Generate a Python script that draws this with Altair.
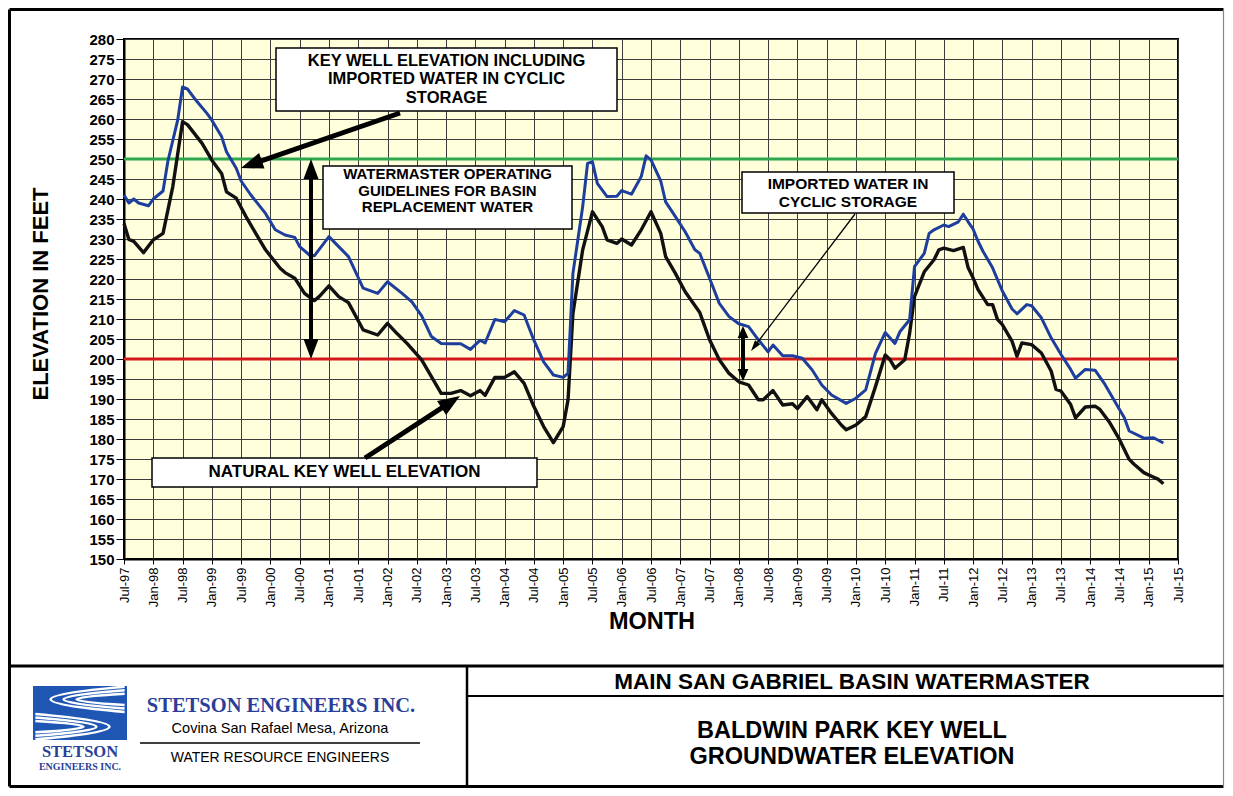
import json
import math
import altair as alt
import pandas as pd

# ---------------- data ----------------
# months counted from Jul-1997 (0 = Jul-97)
blue_months = [0, 1, 2, 3, 5, 6, 8, 9, 11, 12, 13, 15, 17, 18, 20, 21, 23, 24, 26, 29,
               31, 33, 35, 36, 38, 39, 42, 44, 46, 49, 52, 54, 57, 59, 61, 63, 65, 67, 69, 71,
               73, 74, 76, 78, 80, 82, 84, 86, 88, 90, 91, 92, 94, 95, 96, 97, 99, 101, 102, 104,
               106, 107, 108, 110, 111, 113, 115, 117, 118, 120, 122, 124, 126, 128, 130, 132, 133, 135, 137, 139,
               141, 143, 145, 148, 150, 152, 154, 156, 158, 159, 161, 162, 164, 165, 166, 168, 169, 171, 172, 173,
               174, 175, 176, 178, 180, 182, 183, 185, 186, 188, 190, 192, 194, 195, 197, 199, 201, 203, 205, 206,
               209, 211, 213]
blue_values = [241.0, 239.0, 240.0, 239.0, 238.3, 240.0, 242.0, 249.5, 259.7, 268.0,
               267.5, 264.3, 261.4, 259.7, 255.6, 251.8, 247.7, 244.5, 241.0, 236.4,
               232.3, 231.0, 230.4, 228.1, 226.0, 225.8, 230.6, 228.1, 225.6, 217.7,
               216.4, 219.3, 216.4, 214.3, 210.8, 205.6, 203.9, 203.8, 203.8, 202.4,
               204.7, 204.0, 209.9, 209.3, 212.1, 211.0, 204.7, 199.3, 196.0, 195.4,
               196.4, 221.4, 238.1, 248.9, 249.3, 243.9, 240.6, 240.7, 242.1, 241.2,
               245.6, 250.8, 249.8, 244.5, 239.3, 235.6, 231.8, 227.3, 226.4, 220.2,
               213.9, 210.6, 208.8, 208.1, 204.8, 201.8, 203.5, 200.8, 200.8, 200.2,
               197.3, 193.5, 191.0, 188.9, 190.2, 192.3, 201.4, 206.6, 203.9, 206.8,
               209.8, 223.1, 226.4, 231.4, 232.3, 233.5, 233.1, 234.3, 236.2, 234.3,
               232.5, 229.5, 227.0, 222.8, 217.0, 212.5, 211.3, 213.6, 213.3, 210.3,
               205.3, 201.2, 197.4, 195.2, 197.4, 197.2, 193.7, 189.5, 185.3, 182.0,
               180.2, 180.3, 179.0]

black_months = [0, 1, 2, 4, 6, 8, 10, 12, 13, 16, 18, 20, 21, 23, 25, 27, 29, 32, 33, 35,
                37, 39, 40, 42, 44, 46, 49, 52, 54, 56, 58, 61, 63, 65, 67, 69, 71, 73, 74, 76,
                78, 80, 82, 84, 86, 88, 90, 91, 92, 94, 96, 98, 99, 101, 102, 104, 106, 108, 110, 111,
                113, 115, 118, 120, 122, 124, 126, 128, 130, 131, 133, 135, 137, 138, 140, 142, 143, 145, 147, 148,
                150, 152, 154, 156, 157, 158, 160, 161, 162, 164, 166, 167, 168, 170, 172, 173, 174, 175, 177, 178,
                179, 180, 182, 183, 184, 186, 188, 190, 191, 192, 194, 195, 197, 199, 200, 202, 204, 206, 207, 209,
                210, 212, 213]
black_values = [233.9, 229.9, 229.4, 226.6, 229.8, 231.4, 243.1, 259.3, 258.6, 253.9,
                249.7, 246.4, 241.8, 240.2, 235.6, 231.4, 227.3, 222.7, 221.6, 220.2,
                216.4, 214.6, 215.6, 218.3, 215.6, 214.1, 207.3, 206.0, 208.9, 206.3,
                203.9, 199.8, 195.6, 191.4, 191.4, 192.1, 190.8, 192.1, 190.9, 195.4,
                195.4, 196.8, 193.9, 188.1, 183.1, 179.1, 183.1, 189.8, 211.4, 227.3,
                236.8, 233.1, 229.8, 228.9, 230.0, 228.5, 232.3, 236.8, 231.4, 225.6,
                221.4, 216.8, 211.6, 204.8, 199.8, 196.4, 194.3, 193.5, 189.8, 189.8,
                192.1, 188.5, 188.8, 187.6, 190.6, 187.3, 189.8, 186.4, 183.5, 182.3,
                183.5, 185.6, 193.1, 201.0, 199.8, 197.7, 199.8, 206.4, 215.6, 221.8,
                224.8, 227.3, 227.7, 227.1, 227.9, 222.8, 220.3, 217.4, 213.6, 213.6,
                209.9, 208.6, 204.4, 200.7, 204.0, 203.6, 201.5, 197.0, 192.4, 192.0,
                188.6, 185.3, 188.0, 188.2, 187.4, 184.1, 179.9, 174.9, 173.7, 171.6,
                171.0, 169.9, 168.8]

x_tick_labels = ["Jul-97", "Jan-98", "Jul-98", "Jan-99", "Jul-99", "Jan-00", "Jul-00",
                 "Jan-01", "Jul-01", "Jan-02", "Jul-02", "Jan-03", "Jul-03", "Jan-04",
                 "Jul-04", "Jan-05", "Jul-05", "Jan-06", "Jul-06", "Jan-07", "Jul-07",
                 "Jan-08", "Jul-08", "Jan-09", "Jul-09", "Jan-10", "Jul-10", "Jan-11",
                 "Jul-11", "Jan-12", "Jul-12", "Jan-13", "Jul-13", "Jan-14", "Jul-14",
                 "Jan-15", "Jul-15"]
y_ticks = list(range(150, 281, 5))
guide_levels = [250, 200]
guide_colors = ["#2EA84C", "#D21A1A"]


def month_to_date(m):
    return f"{1997 + (m + 6) // 12}-{(m + 6) % 12 + 1:02d}"


def date_to_pos(d):
    y, mo = map(int, d.split("-"))
    return y + (mo - 1) / 12


blue_dates = [month_to_date(m) for m in blue_months]
black_dates = [month_to_date(m) for m in black_months]
df_blue = pd.DataFrame({"date": blue_dates, "t": [date_to_pos(d) for d in blue_dates], "elev": blue_values})
df_black = pd.DataFrame({"date": black_dates, "t": [date_to_pos(d) for d in black_dates], "elev": black_values})
df_guide = pd.DataFrame({"elev": guide_levels, "col": guide_colors})
x_tick_values = [1997.5 + 0.5 * i for i in range(len(x_tick_labels))]

# ---------------- layout ----------------
X0, Y0, W, H = 124, 39, 1054, 520  # plot area position in the page
SANS = "Liberation Sans, Arial, sans-serif"
SERIF = "Liberation Serif, Times New Roman, serif"
GRID = "#3c3c3c"
dummy = pd.DataFrame({"k": [0]})

label_expr = json.dumps(x_tick_labels) + "[round((datum.value - 1997.5) * 2)]"

xenc = alt.X("t:Q", scale=alt.Scale(domain=[1997.5, 2015.5], nice=False, zero=False),
             axis=alt.Axis(values=x_tick_values, labelExpr=label_expr, labelAngle=270,
                           labelFontSize=13, labelFont=SANS, labelColor="black", labelPadding=3,
                           labelOverlap=False, labelFlush=False, tickSize=5, tickColor="black",
                           domainColor="black", domainWidth=2, grid=True, gridColor=GRID,
                           gridWidth=1, title=None))
yscale = alt.Scale(domain=[150, 280], nice=False, zero=False)
yenc = alt.Y("elev:Q", scale=yscale,
             axis=alt.Axis(values=y_ticks, format="d", labelFontSize=15, labelFontWeight="bold",
                           labelFont=SANS, labelColor="black", labelPadding=2, tickSize=8,
                           tickColor="black", domainColor="black", domainWidth=2, grid=True,
                           gridColor=GRID, gridWidth=1, title=None, labelOverlap=False,
                           labelFlush=False))

guides = alt.Chart(df_guide).mark_rule(strokeWidth=3).encode(
    y=yenc, color=alt.Color("col:N", scale=None))
black_line = alt.Chart(df_black).mark_line(color="#111111", strokeWidth=3.4, strokeJoin="round").encode(
    x=xenc, y=yenc, order="t:Q")
blue_line = alt.Chart(df_blue).mark_line(color="#1E3E9E", strokeWidth=3, strokeJoin="round").encode(
    x=xenc, y=yenc, order="t:Q")


def P(x, y):
    return x - X0, y - Y0


def txt(s, x, y, size, weight="bold", font=SANS, color="black", angle=None, align="center"):
    px, py = P(x, y)
    kw = dict(text=s, font=font, fontSize=size, fontWeight=weight, color=color,
              align=align, baseline="middle")
    if angle is not None:
        kw["angle"] = angle
    return alt.Chart(dummy).mark_text(**kw).encode(x=alt.value(px), y=alt.value(py))


def box(x1, y1, x2, y2, fill="white", stroke="black", sw=1.5):
    a, b = P(x1, y1)
    c, d = P(x2, y2)
    kw = dict(fill=fill, strokeWidth=sw)
    if stroke:
        kw["stroke"] = stroke
    return alt.Chart(dummy).mark_rect(**kw).encode(
        x=alt.value(a), x2=alt.value(c), y=alt.value(b), y2=alt.value(d))


def seg(x1, y1, x2, y2, w, color="black"):
    a, b = P(x1, y1)
    c, d = P(x2, y2)
    return alt.Chart(dummy).mark_rule(color=color, strokeWidth=w).encode(
        x=alt.value(a), x2=alt.value(c), y=alt.value(b), y2=alt.value(d))


def head(tipx, tipy, dx, dy, length, ratio=0.75):
    L = math.hypot(dx, dy)
    ux, uy = dx / L, dy / L
    cx, cy = tipx - ux * length / 2, tipy - uy * length / 2
    ang = math.degrees(math.atan2(dx, -dy)) % 360
    path = f"M0,-1L{ratio},1L{-ratio},1Z"
    px, py = P(cx, cy)
    return alt.Chart(dummy).mark_point(shape=path, filled=True, color="black", opacity=1,
                                       size=length ** 2, angle=ang, strokeWidth=0).encode(
        x=alt.value(px), y=alt.value(py))


def arrow(x1, y1, x2, y2, w, length, ratio=0.75):
    dx, dy = x2 - x1, y2 - y1
    L = math.hypot(dx, dy)
    ux, uy = dx / L, dy / L
    return [seg(x1, y1, x2 - ux * length * 0.7, y2 - uy * length * 0.7, w),
            head(x2, y2, dx, dy, length, ratio)]


def double_arrow(x1, y1, x2, y2, w, length, ratio=0.75):
    dx, dy = x2 - x1, y2 - y1
    L = math.hypot(dx, dy)
    ux, uy = dx / L, dy / L
    return [seg(x1 + ux * length * 0.7, y1 + uy * length * 0.7,
                x2 - ux * length * 0.7, y2 - uy * length * 0.7, w),
            head(x2, y2, dx, dy, length, ratio),
            head(x1, y1, -dx, -dy, length, ratio)]


layers = [guides, black_line, blue_line]

# annotation boxes and arrows
layers += [box(276, 48, 617, 111),
           txt("KEY WELL ELEVATION INCLUDING", 446.5, 60.5, 16.5),
           txt("IMPORTED WATER IN CYCLIC", 446.5, 79, 16.5),
           txt("STORAGE", 446.5, 97.5, 16.5)]
layers += arrow(400, 113, 241, 168, 5, 22)
layers += [box(323, 166, 572, 229),
           txt("WATERMASTER OPERATING", 447.5, 174, 15),
           txt("GUIDELINES FOR BASIN", 447.5, 190.5, 15),
           txt("REPLACEMENT WATER", 447.5, 207, 15)]
layers += double_arrow(311, 159, 311, 359, 4, 20)
layers += [box(742, 172, 954, 213),
           txt("IMPORTED WATER IN", 848, 183.5, 15.5),
           txt("CYCLIC STORAGE", 848, 201.5, 15.5)]
layers += arrow(855, 214, 751, 351, 1.3, 11, 0.6)
layers += double_arrow(743, 326, 743, 381, 4, 12, 0.9)
layers += [box(152, 458, 537, 487),
           txt("NATURAL KEY WELL ELEVATION", 344.5, 472, 17)]
layers += arrow(365, 458, 460, 396, 5, 22)

# axis titles
layers += [txt("ELEVATION IN FEET", 41, 294, 22, angle=270),
           txt("MONTH", 652, 622, 23.5)]

# frame and title block
layers += [seg(9.5, 9.5, 1223.5, 9.5, 3), seg(9.5, 9.5, 9.5, 786.5, 3),
           seg(9.5, 786.5, 1223.5, 786.5, 3), seg(1223.5, 9.5, 1223.5, 786.5, 1.2, "#888888"),
           seg(9.5, 666, 1223.5, 666, 3), seg(467, 666, 467, 786.5, 2.5),
           seg(467, 696, 1223.5, 696, 2)]
layers += [txt("MAIN SAN GABRIEL BASIN WATERMASTER", 852, 682, 22.5),
           txt("BALDWIN PARK KEY WELL", 852, 731, 23.5),
           txt("GROUNDWATER ELEVATION", 852, 757, 23.5)]

# company block
LOGO_BLUE = "#1F56B4"
TEXT_BLUE = "#2A3E9A"
logo_path = ""
for k in range(3):
    a = -0.56 + 0.075 * k
    b = -0.02 - 0.075 * k
    c = -2.2 + 0.55 * k
    logo_path += f"M0.95,{a:.3f}Q{c:.3f},-0.29 0.95,{b:.3f}"
    logo_path += f"M-0.95,{-a:.3f}Q{-c:.3f},0.29 -0.95,{-b:.3f}"
lx, ly = P(80, 713)
layers += [box(33, 686, 127, 740, fill=LOGO_BLUE, stroke=None, sw=0),
           alt.Chart(dummy).mark_point(shape=logo_path, filled=False, color="white", opacity=1,
                                       strokeWidth=2.6, size=47 * 47 * 4).encode(
               x=alt.value(lx), y=alt.value(ly)),
           txt("STETSON", 80, 752, 16.5, font=SERIF, color=TEXT_BLUE),
           txt("ENGINEERS INC.", 80, 767, 10, font=SERIF, color=TEXT_BLUE),
           txt("STETSON ENGINEERS INC.", 281, 706, 20.5, font=SERIF, color=TEXT_BLUE),
           txt("Covina  San Rafael  Mesa, Arizona", 280, 729, 14.5, weight="normal"),
           seg(140, 743, 420, 743, 1.5),
           txt("WATER RESOURCE ENGINEERS", 280, 758, 14, weight="normal")]

chart = alt.layer(*layers).properties(
    width=W, height=H,
    autosize=alt.AutoSizeParams(type="none"),
    padding={"left": X0 - 8, "top": Y0 - 8, "right": 1217 - (X0 - 8) - W, "bottom": 780 - (Y0 - 8) - H},
).configure(background="white").configure_view(fill="#FFFFDC", stroke="black", strokeWidth=2)

chart.save("out.html", embed_options={"renderer": "svg", "actions": False})
